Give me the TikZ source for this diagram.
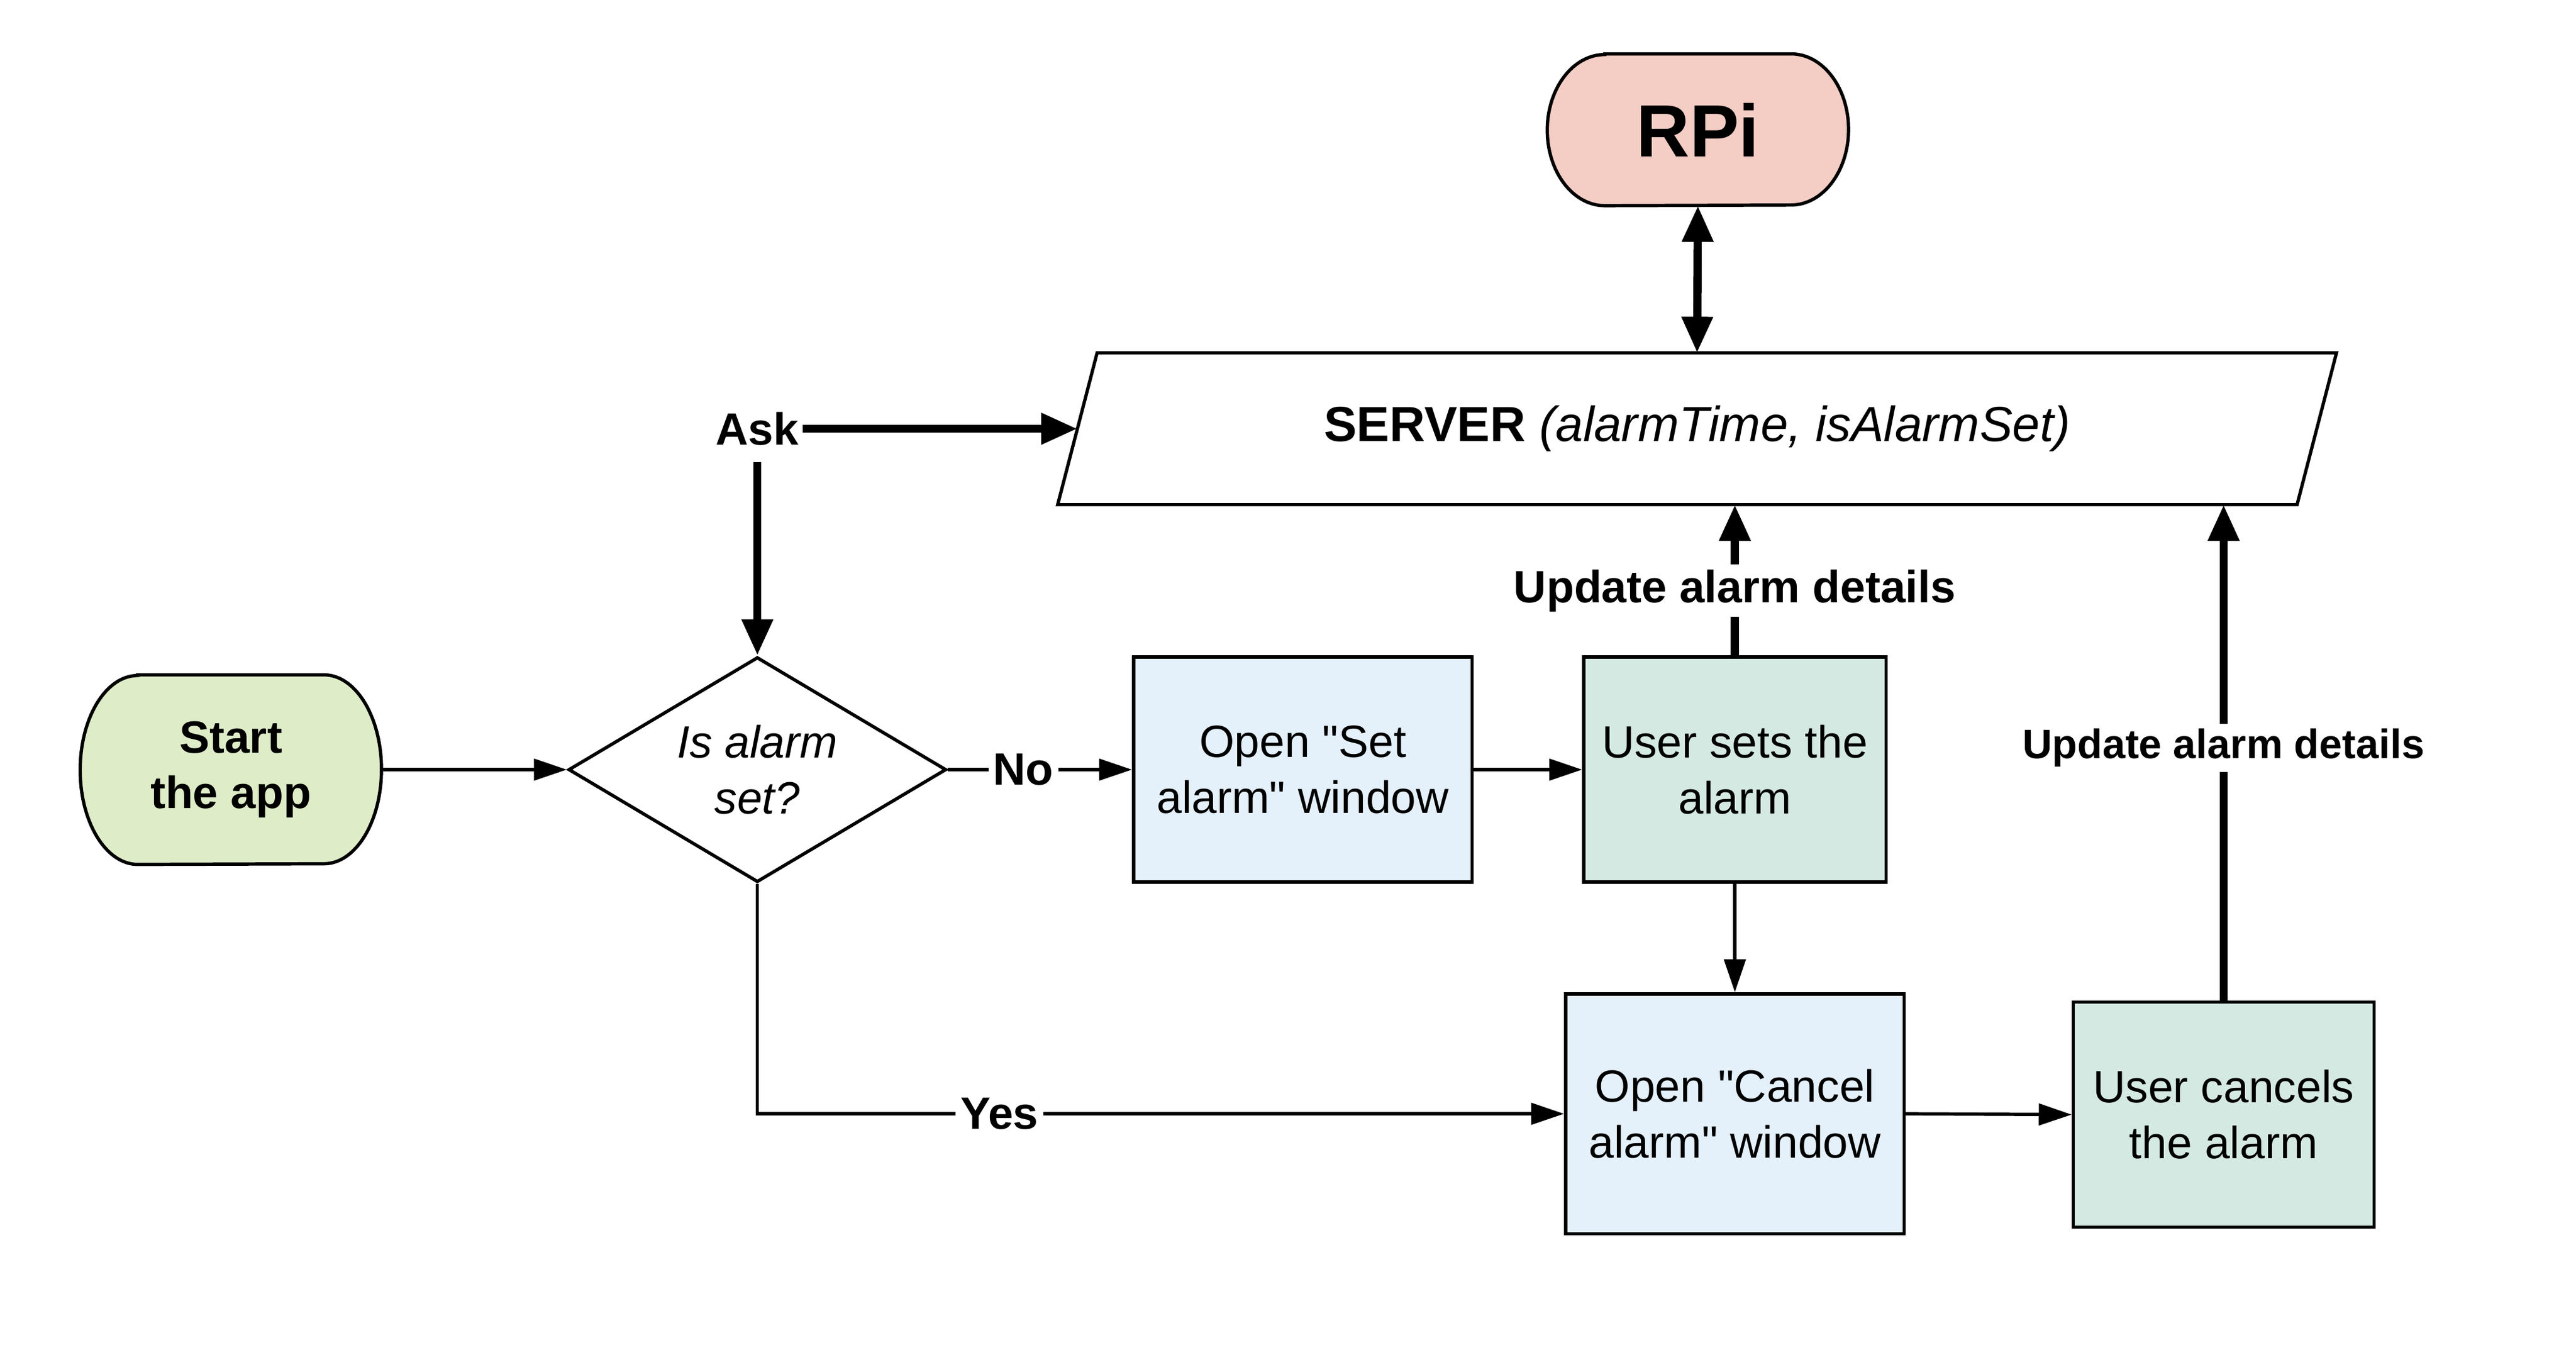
\documentclass[tikz,border=0pt]{standalone}
\usepackage{fontspec}
\setmainfont{Liberation Sans}[Ligatures=TeXOff]
\usetikzlibrary{arrows.meta,shapes.geometric,calc,backgrounds}
\definecolor{pinkfill}{HTML}{F4CDC5}
\definecolor{greenfill}{HTML}{DEECC8}
\definecolor{bluefill}{HTML}{E4F0FA}
\definecolor{tealfill}{HTML}{D5E9E3}
\begin{document}
\begin{tikzpicture}[x=1pt,y=-1pt,
  txt/.style={font=\fontsize{27.5}{34}\selectfont, align=center, inner sep=0pt},
  procbox/.style={txt, draw, line width=2pt, minimum width=#1},
  outline/.style={draw, line width=2pt},
  thinarrow/.style={line width=2pt, -{Triangle[length=20pt,width=13pt]}},
  thickarrow/.style={line width=5pt, -{Triangle[length=22pt,width=18pt]}},
  lbl/.style={fill=white, inner sep=3pt, font=\bfseries\fontsize{27.5}{34}\selectfont}
]
\useasboundingbox (0,0) rectangle (1568,824.8);

% nodes
\node[txt, font=\bfseries\fontsize{45}{50}\selectfont, minimum width=183pt, minimum height=92pt] (rpi) at (1033.5,79) {RPi};
\node[txt, font=\fontsize{30}{36}\selectfont, minimum width=754pt, minimum height=92pt] (server) at (1033,261) {\textbf{SERVER} \textit{(alarmTime, isAlarmSet)}};
\node[lbl, inner xsep=2pt, inner ysep=10pt] (ask) at (461,261) {Ask};
\node[txt, font=\bfseries\fontsize{27.5}{34}\selectfont, minimum width=183pt, minimum height=115pt] (start) at (140.5,468.5) {Start\\the app};
\node[txt, draw, line width=2pt, shape=diamond, shape aspect=1.68, minimum width=230pt, minimum height=137pt] (dia) at (461,468.5) {\itshape Is alarm\\\itshape set?};
\node[procbox=206pt, minimum height=137pt, fill=bluefill] (setwin) at (793,468.5) {Open "Set\\alarm" window};
\node[procbox=184pt, minimum height=137pt, fill=tealfill] (sets) at (1056,468.5) {User sets the\\alarm};
\node[procbox=206pt, minimum height=146pt, fill=bluefill] (cancel) at (1056,678) {Open "Cancel\\alarm" window};
\node[procbox=183pt, minimum height=137pt, fill=tealfill] (ucancel) at (1353.5,678.5) {User cancels\\the alarm};

% custom outlines
\begin{scope}[on background layer]
\draw[outline, fill=pinkfill] ($(rpi.north west)+(35,0)$) -- ($(rpi.north east)+(-35,0)$)
  arc[start angle=90, end angle=-90, x radius=35pt, y radius=46pt]
  -- ($(rpi.south west)+(35,0)$)
  arc[start angle=270, end angle=90, x radius=35pt, y radius=46pt] -- cycle;
\draw[outline, fill=greenfill] ($(start.north west)+(35,0)$) -- ($(start.north east)+(-35,0)$)
  arc[start angle=90, end angle=-90, x radius=35pt, y radius=57.5pt]
  -- ($(start.south west)+(35,0)$)
  arc[start angle=270, end angle=90, x radius=35pt, y radius=57.5pt] -- cycle;
\draw[outline, fill=white] ($(server.north west)+(12,0)$) -- ($(server.north east)+(12,0)$)
  -- ($(server.south east)+(-12,0)$) -- ($(server.south west)+(-12,0)$) -- cycle;
\end{scope}

% connectors
\draw[thickarrow, {Triangle[length=22pt,width=18pt]}-{Triangle[length=22pt,width=18pt]}] (server.north) -- (rpi.south);
\draw[thickarrow] (ask.east) -- (server.west);
\draw[thickarrow] (ask.south) -- (dia.north);
\draw[thinarrow] (start.east) -- (dia.west);
\draw[thinarrow] (dia.east) -- node[lbl, pos=0.41] {No} (setwin.west);
\draw[thinarrow] (setwin.east) -- (sets.west);
\draw[thickarrow] (sets.north) -- node[lbl, pos=0.43] {Update alarm details} (sets.north |- server.south);
\draw[thinarrow] (sets.south) -- (cancel.north);
\draw[thinarrow] (dia.south) |- node[lbl, pos=0.65] {Yes} (cancel.west);
\draw[thinarrow] (cancel.east) -- (ucancel.west);
\draw[thickarrow] (ucancel.north) -- node[lbl, pos=0.51, font=\bfseries\fontsize{25}{30}\selectfont] {Update alarm details} (ucancel.north |- server.south);
\end{tikzpicture}
\end{document}
